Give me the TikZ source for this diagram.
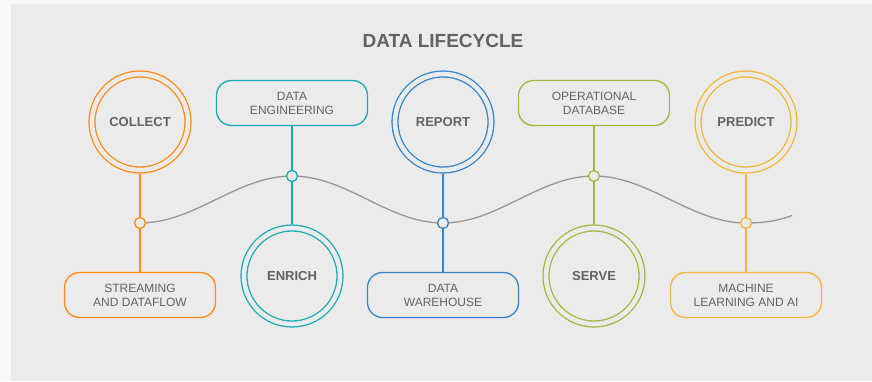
\documentclass[tikz,border=0pt]{standalone}
\usepackage{fontspec}
\setmainfont{Liberation Sans}

\definecolor{panel}{RGB}{235,235,235}
\definecolor{outside}{RGB}{247,247,247}
\definecolor{ink}{RGB}{98,98,98}
\definecolor{wavegrey}{RGB}{150,150,150}
\definecolor{corange}{RGB}{255,138,20}
\definecolor{cteal}{RGB}{22,170,178}
\definecolor{cblue}{RGB}{52,132,204}
\definecolor{cgreen}{RGB}{160,185,58}
\definecolor{cyellow}{RGB}{246,180,52}

\tikzset{
  ring/.style={circle, draw=#1, line width=1.3pt, double=panel, double distance=4.6pt,
    minimum size=96pt, outer sep=3.6pt, text=ink, font=\fontsize{13}{15}\selectfont\bfseries},
  tag/.style={rectangle, rounded corners=15pt, draw=#1, line width=1.3pt, minimum width=151pt,
    minimum height=45pt, align=center, text=ink, font=\fontsize{12}{14}\selectfont},
  dot/.style={circle, draw=#1, fill=panel, line width=1.3pt, minimum size=11pt, inner sep=0pt},
  link/.style={draw=#1, line width=1.3pt},
}

\begin{document}
\begin{tikzpicture}[x=1pt,y=1pt]
    \fill[outside] (0,0) rectangle (872,381);
    \fill[panel] (11,0) rectangle (872,377);

    \node[text=ink, font=\fontsize{19}{22}\selectfont\bfseries] (title) at (443,340) {DATA LIFECYCLE};

    % points on the wave
    \coordinate (w1) at (140,158);
    \coordinate (w2) at (292,205);
    \coordinate (w3) at (443,158);
    \coordinate (w4) at (594,205);
    \coordinate (w5) at (746,158);
    \coordinate (wend) at (792,165.5);

    \draw[wavegrey, line width=1.3pt] (w1) .. controls +(55,0) and +(-55,0) .. (w2)
                                           .. controls +(55,0) and +(-55,0) .. (w3)
                                           .. controls +(55,0) and +(-55,0) .. (w4)
                                           .. controls +(55,0) and +(-55,0) .. (w5)
                                           .. controls +(16,0) and +(-15,-5.9) .. (wend);

    \node[ring=corange] (collect) at (140,259) {COLLECT};
    \node[ring=cteal] (enrich) at (292,105) {ENRICH};
    \node[ring=cblue] (report) at (443,259) {REPORT};
    \node[ring=cgreen] (serve) at (594,105) {SERVE};
    \node[ring=cyellow] (predict) at (746,259) {PREDICT};

    \node[tag=corange] (stream) at (140,86) {STREAMING\\AND DATAFLOW};
    \node[tag=cteal] (dataeng) at (292,278) {DATA\\ENGINEERING};
    \node[tag=cblue] (warehouse) at (443,86) {DATA\\WAREHOUSE};
    \node[tag=cgreen] (opdb) at (594,278) {OPERATIONAL\\DATABASE};
    \node[tag=cyellow] (mlai) at (746,86) {MACHINE\\LEARNING AND AI};

    \draw[link=corange] (collect) -- (stream);
    \draw[link=cteal] (dataeng) -- (enrich);
    \draw[link=cblue] (report) -- (warehouse);
    \draw[link=cgreen] (opdb) -- (serve);
    \draw[link=cyellow] (predict) -- (mlai);

    \node[dot=corange] (d1) at (w1) {};
    \node[dot=cteal] (d2) at (w2) {};
    \node[dot=cblue] (d3) at (w3) {};
    \node[dot=cgreen] (d4) at (w4) {};
    \node[dot=cyellow] (d5) at (w5) {};
\end{tikzpicture}
\end{document}
